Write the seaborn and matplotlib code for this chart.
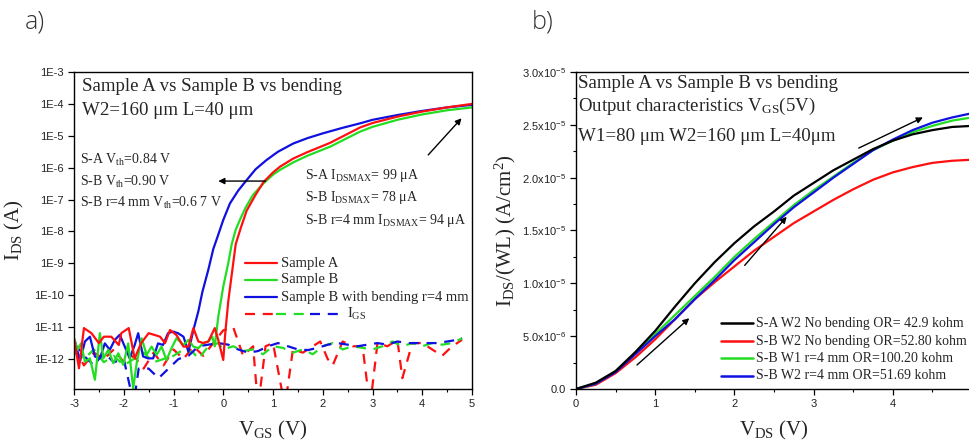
import numpy as np
import pandas as pd
import matplotlib
matplotlib.use("Agg")
import matplotlib.pyplot as plt
import seaborn as sns
from matplotlib.ticker import FixedLocator, FixedFormatter, MultipleLocator, NullFormatter

sns.set_style("ticks")
plt.rcParams["font.family"] = ["Liberation Serif", "DejaVu Serif"]
plt.rcParams["mathtext.fontset"] = "custom"
plt.rcParams["mathtext.rm"] = "Liberation Serif"
plt.rcParams["mathtext.it"] = "Liberation Serif:italic"
plt.rcParams["mathtext.sf"] = "Liberation Sans"
plt.rcParams["axes.edgecolor"] = "black"
plt.rcParams["axes.linewidth"] = 1.0

# ---------------- panel a) transfer curves (log10 of I_DS) ----------------
vgs_a = [-3.0, -2.9, -2.8, -2.65, -2.5, -2.4, -2.25, -2.1, -2.05, -1.9, -1.78, -1.65, -1.5,
         -1.37, -1.27, -1.17, -1.07, -0.94, -0.8, -0.7, -0.6, -0.5, -0.4, -0.3, -0.17, -0.1,
         0.0, 0.04, 0.1, 0.15, 0.2, 0.25, 0.35, 0.47, 0.65, 0.81, 1.0, 1.14, 1.4, 1.68, 2.15,
         2.75, 3.0, 3.5, 4.0, 4.5, 5.0]
log_a = [-11.35, -12.29, -11.03, -11.19, -11.5, -11.3, -11.3, -11.56, -11.19, -11.03, -11.98,
         -11.5, -11.19, -11.25, -11.3, -11.5, -11.09, -11.25, -11.61, -11.61, -11.03, -11.45,
         -11.5, -11.45, -11.03, -11.4, -12.03, -11.2, -10.2, -9.6, -9.0, -8.4, -7.9, -7.35,
         -6.85, -6.45, -6.15, -5.97, -5.72, -5.52, -5.22, -4.74, -4.6, -4.4, -4.24, -4.11, -4.0]

vgs_b = [-3.0, -2.93, -2.86, -2.78, -2.68, -2.58, -2.48, -2.41, -2.31, -2.21, -2.11, -2.01,
         -1.91, -1.81, -1.74, -1.64, -1.54, -1.44, -1.34, -1.24, -1.14, -1.04, -0.94, -0.8,
         -0.7, -0.6, -0.5, -0.4, -0.3, -0.22, -0.17, -0.1, 0.0, 0.1, 0.17, 0.25, 0.34, 0.45,
         0.6, 0.81, 1.0, 1.14, 1.4, 1.7, 2.15, 2.75, 3.0, 3.5, 4.0, 4.5, 5.0]
log_b = [-11.35, -11.71, -11.51, -12.08, -11.98, -12.65, -11.19, -11.98, -11.71, -12.13,
         -11.82, -12.18, -11.51, -12.92, -12.13, -11.35, -11.87, -11.61, -11.87, -11.61,
         -12.03, -11.66, -11.35, -11.56, -11.4, -11.61, -11.66, -11.5, -11.45, -11.3, -11.6,
         -10.67, -9.73, -9.0, -8.4, -7.95, -7.62, -7.25, -6.85, -6.49, -6.22, -6.07, -5.84,
         -5.62, -5.34, -4.87, -4.72, -4.5, -4.33, -4.2, -4.11]

vgs_c = [-3.0, -2.98, -2.88, -2.78, -2.68, -2.58, -2.48, -2.38, -2.28, -2.18, -2.08, -1.98,
         -1.88, -1.78, -1.71, -1.61, -1.51, -1.41, -1.31, -1.21, -1.11, -1.01, -0.91, -0.8,
         -0.7, -0.6, -0.5, -0.42, -0.3, -0.2, -0.1, 0.0, 0.135, 0.3, 0.47, 0.65, 0.87, 1.1,
         1.41, 1.7, 2.01, 2.4, 2.75, 3.0, 3.5, 4.0, 4.5, 5.0]
log_c = [-11.4, -11.45, -12.08, -11.45, -11.3, -11.92, -11.98, -11.51, -11.71, -11.4, -11.24,
         -11.61, -11.98, -11.56, -11.19, -11.92, -11.98, -11.98, -11.51, -11.56, -11.19,
         -11.14, -11.19, -11.3, -11.77, -11.09, -10.5, -9.9, -9.2, -8.55, -8.1, -7.64, -7.12,
         -6.72, -6.39, -6.05, -5.76, -5.5, -5.24, -5.07, -4.92, -4.75, -4.61, -4.5, -4.35,
         -4.22, -4.11, -4.03]

# gate leakage I_GS (log10)
vgs_ga = [-3.0, -2.8, -2.6, -2.4, -2.2, -2.0, -1.8, -1.6, -1.4, -1.2, -1.0, -0.8, -0.6, -0.4,
          -0.2, 0.0, 0.2, 0.4, 0.6, 0.7, 0.85, 1.0, 1.24, 1.4, 1.6, 1.8, 1.95, 2.1, 2.2, 2.4,
          2.6, 2.8, 2.95, 3.1, 3.3, 3.5, 3.6, 3.8, 4.0, 4.2, 4.4, 4.6, 4.8]
log_ga = [-11.6, -12.2, -11.8, -12.0, -11.7, -12.1, -11.9, -12.3, -11.8, -12.2, -11.7, -12.0,
          -11.6, -11.9, -11.5, -11.1, -11.0, -11.9, -11.6, -13.5, -11.6, -11.5, -13.5, -11.7,
          -11.8, -11.6, -11.45, -12.0, -12.2, -11.45, -11.6, -11.6, -13.5, -11.5, -11.6,
          -11.4, -12.6, -11.5, -11.5, -11.7, -11.9, -11.6, -11.4]
vgs_gb = [-3.0, -2.8, -2.6, -2.4, -2.2, -2.0, -1.8, -1.6, -1.4, -1.2, -1.0, -0.8, -0.6, -0.5,
          -0.3, -0.1, 0.0, 0.2, 0.4, 0.6, 0.8, 1.0, 1.2, 1.4, 1.6, 1.8, 2.0, 2.2, 2.4, 2.6,
          2.8, 3.0, 3.2, 3.4, 3.6, 3.8, 4.0, 4.2, 4.4, 4.6, 4.8]
log_gb = [-11.8, -12.0, -11.7, -12.1, -11.9, -12.2, -12.0, -11.8, -12.1, -12.0, -11.9, -11.7,
          -11.8, -12.0, -11.6, -11.5, -11.7, -11.6, -11.75, -11.7, -11.85, -11.6, -11.65,
          -11.8, -11.7, -11.85, -11.6, -11.5, -11.7, -11.6, -11.65, -11.7, -11.6, -11.45,
          -11.6, -11.5, -11.6, -11.5, -11.55, -11.5, -11.35]
vgs_gc = [-3.0, -2.8, -2.6, -2.4, -2.2, -2.0, -1.8, -1.7, -1.5, -1.3, -1.1, -0.9, -0.7, -0.5,
          -0.3, -0.1, 0.1, 0.3, 0.5, 0.7, 0.9, 1.1, 1.3, 1.5, 1.7, 1.9, 2.1, 2.3, 2.5, 2.7,
          2.9, 3.1, 3.3, 3.5, 3.7, 3.9, 4.1, 4.3, 4.5, 4.7, 4.8]
log_gc = [-11.5, -11.9, -12.2, -11.8, -12.1, -12.0, -13.4, -12.3, -12.3, -12.6, -12.3, -12.0,
          -11.9, -11.6, -11.55, -11.5, -11.55, -11.7, -11.8, -11.75, -11.6, -11.5, -11.6,
          -11.7, -11.72, -11.65, -11.55, -11.5, -11.55, -11.6, -11.55, -11.5, -11.55, -11.45,
          -11.5, -11.5, -11.5, -11.5, -11.45, -11.4, -11.35]

a_ytick_vals = [1e-12, 1e-11, 1e-10, 1e-9, 1e-8, 1e-7, 1e-6, 1e-5, 1e-4, 1e-3]
a_ytick_labels = ["1E-12", "1E-11", "1E-10", "1E-9", "1E-8", "1E-7", "1E-6", "1E-5", "1E-4", "1E-3"]
a_xticks = [-3, -2, -1, 0, 1, 2, 3, 4, 5]

# ---------------- panel b) output curves (A/cm^2, units of 1e-5) ----------------
vds = [0.0, 0.25, 0.5, 0.75, 1.0, 1.25, 1.5, 1.75, 2.0, 2.25, 2.5, 2.75, 3.0, 3.25, 3.5,
       3.75, 4.0, 4.25, 4.5, 4.75, 5.0]
j_sa_w2 = [0, 0.06, 0.17, 0.35, 0.55, 0.78, 1.0, 1.2, 1.38, 1.54, 1.68, 1.83, 1.95, 2.07,
           2.17, 2.27, 2.35, 2.41, 2.45, 2.48, 2.49]
j_sb_w2 = [0, 0.04, 0.15, 0.3, 0.47, 0.66, 0.85, 1.01, 1.16, 1.31, 1.44, 1.57, 1.68, 1.79,
           1.89, 1.98, 2.05, 2.1, 2.14, 2.16, 2.17]
j_sb_w1_r4 = [0, 0.05, 0.17, 0.34, 0.52, 0.7, 0.88, 1.06, 1.25, 1.42, 1.58, 1.74, 1.88, 2.01,
              2.14, 2.26, 2.35, 2.43, 2.49, 2.54, 2.57]
j_sb_w2_r4 = [0, 0.05, 0.16, 0.33, 0.5, 0.66, 0.85, 1.03, 1.22, 1.39, 1.56, 1.72, 1.86, 2.0,
              2.13, 2.26, 2.36, 2.45, 2.52, 2.57, 2.61]
b_labels = ["S-A W2 No bending OR= 42.9 kohm", "S-B W2 No bending OR=52.80 kohm",
            "S-B W1 r=4 mm OR=100.20 kohm", "S-B W2 r=4 mm OR=51.69 kohm"]
b_ytick_vals = [0, 0.5e-5, 1.0e-5, 1.5e-5, 2.0e-5, 2.5e-5, 3.0e-5]
b_ytick_labels = ["0.0", r"$\mathsf{5.0x10^{-6}}$", r"$\mathsf{1.0x10^{-5}}$",
                  r"$\mathsf{1.5x10^{-5}}$", r"$\mathsf{2.0x10^{-5}}$",
                  r"$\mathsf{2.5x10^{-5}}$", r"$\mathsf{3.0x10^{-5}}$"]
b_xticks = [0, 1, 2, 3, 4]

RED = "#ff1010"
GREEN = "#22dd22"
BLUE = "#1010e0"
BLACK = "#000000"

fig = plt.figure(figsize=(9.69, 4.45), dpi=100)
axA = fig.add_axes([74 / 969, 1 - 389 / 445, 398 / 969, 317 / 445])
axB = fig.add_axes([576 / 969, 1 - 389 / 445, 396 / 969, 317 / 445])

# ---- panel a
axA.set_yscale("log")
dash = (0, (4.5, 3.5))
for vx, lg, col in [(vgs_ga, log_ga, RED), (vgs_gb, log_gb, GREEN), (vgs_gc, log_gc, BLUE)]:
    sns.lineplot(x=vx, y=10.0 ** np.array(lg), ax=axA, color=col, lw=1.6,
                 linestyle=dash, estimator=None, sort=False)
for vx, lg, col in [(vgs_c, log_c, BLUE), (vgs_b, log_b, GREEN), (vgs_a, log_a, RED)]:
    sns.lineplot(x=vx, y=10.0 ** np.array(lg), ax=axA, color=col, lw=1.6,
                 estimator=None, sort=False)

axA.set_xlim(-3, 5)
axA.set_ylim(10 ** -12.94, 1e-3)
axA.yaxis.set_major_locator(FixedLocator(a_ytick_vals))
axA.yaxis.set_major_formatter(FixedFormatter(a_ytick_labels))
axA.yaxis.set_minor_locator(matplotlib.ticker.LogLocator(base=10, subs=np.arange(2, 10)))
axA.yaxis.set_minor_formatter(NullFormatter())
axA.set_xticks(a_xticks)
axA.set_xticklabels([str(v) for v in a_xticks])
axA.xaxis.set_minor_locator(MultipleLocator(0.5))

axA.set_xlabel(r"V$_{\rm GS}$ (V)", fontsize=15)
axA.set_ylabel(r"I$_{\rm DS}$ (A)", fontsize=15)
axA.xaxis.set_label_coords(0.5, -0.095)
axA.yaxis.set_label_coords(-0.12, 0.5)

axA.text(0.019, 0.953, "Sample A vs Sample B vs bending", transform=axA.transAxes,
         fontsize=13.6, va="center", ha="left")
axA.text(0.019, 0.877, "W2=160 \u03bcm L=40 \u03bcm", transform=axA.transAxes,
         fontsize=13.6, va="center", ha="left")
for yy, s in zip([0.722, 0.653, 0.587],
                 [r"S-A V$_{\rm th}$=0.84 V", r"S-B V$_{\rm th}$=0.90 V",
                  r"S-B r=4 mm V$_{\rm th}$=0.6 7 V"]):
    axA.text(0.015, yy, s, transform=axA.transAxes, fontsize=10, va="center", ha="left")
for yy, s in zip([0.675, 0.603, 0.530],
                 ["S-A I$_{\\rm DSMAX}$= 99 \u03bcA", "S-B I$_{\\rm DSMAX}$= 78 \u03bcA",
                  "S-B r=4 mm I$_{\\rm DSMAX}$= 94 \u03bcA"]):
    axA.text(0.580, yy, s, transform=axA.transAxes, fontsize=10, va="center", ha="left")

arrow_kw = dict(arrowstyle="-|>", color="black", lw=1.0, mutation_scale=9,
                shrinkA=0, shrinkB=0)
axA.annotate("", xy=(-0.1, 10 ** -6.42), xytext=(0.85, 10 ** -6.42), arrowprops=arrow_kw)
axA.annotate("", xy=(4.79, 10 ** -4.45), xytext=(4.12, 10 ** -5.6), arrowprops=arrow_kw)

# manual legend (panel a)
leg_rows = [0.397, 0.344, 0.290, 0.237]
for yy, col, s in zip(leg_rows[:3], [RED, GREEN, BLUE],
                      ["Sample A", "Sample B", "Sample B with bending r=4 mm"]):
    axA.plot([0.430, 0.510], [yy, yy], color=col, lw=1.6, transform=axA.transAxes)
    axA.text(0.520, yy, s, transform=axA.transAxes, fontsize=10.5, va="center", ha="left")
for x0, x1, col in [(0.430, 0.508, RED), (0.508, 0.592, GREEN), (0.592, 0.676, BLUE)]:
    axA.plot([x0, x1], [leg_rows[3]] * 2, color=col, lw=1.6, linestyle=dash,
             transform=axA.transAxes)
axA.text(0.686, leg_rows[3], r"I$_{\rm GS}$", transform=axA.transAxes, fontsize=10.5,
         va="center", ha="left")

# ---- panel b
for yv, col in [(j_sb_w2, RED), (j_sb_w1_r4, GREEN), (j_sb_w2_r4, BLUE), (j_sa_w2, BLACK)]:
    sns.lineplot(x=vds, y=np.array(yv) * 1e-5, ax=axB, color=col, lw=1.6,
                 estimator=None, sort=False)
axB.set_xlim(0, 5)
axB.set_ylim(0, 3.0e-5)
axB.set_xticks(b_xticks)
axB.set_xticklabels([str(v) for v in b_xticks])
axB.xaxis.set_minor_locator(MultipleLocator(0.5))
axB.yaxis.set_major_locator(FixedLocator(b_ytick_vals))
axB.yaxis.set_major_formatter(FixedFormatter(b_ytick_labels))
axB.yaxis.set_minor_locator(MultipleLocator(0.25e-5))
axB.set_xlabel(r"V$_{\rm DS}$ (V)", fontsize=15)
axB.set_ylabel(r"I$_{\rm DS}$/(WL) (A/cm$^{2}$)", fontsize=15)
axB.xaxis.set_label_coords(0.5, -0.095)
axB.yaxis.set_label_coords(-0.147, 0.5)

for yy, s in zip([0.965, 0.890, 0.795],
                 ["Sample A vs Sample B vs bending", r"Output characteristics V$_{\rm GS}$(5V)",
                  "W1=80 \u03bcm W2=160 \u03bcm L=40\u03bcm"]):
    axB.text(0.006, yy, s, transform=axB.transAxes, fontsize=13.6, va="center", ha="left")

axB.annotate("", xy=(1.43, 0.67e-5), xytext=(0.77, 0.227e-5), arrowprops=arrow_kw)
axB.annotate("", xy=(2.66, 1.63e-5), xytext=(2.13, 1.17e-5), arrowprops=arrow_kw)
axB.annotate("", xy=(4.38, 2.57e-5), xytext=(3.57, 2.28e-5), arrowprops=arrow_kw)

b_rows = [0.207, 0.151, 0.097, 0.042]
for yy, col, s in zip(b_rows, [BLACK, RED, GREEN, BLUE], b_labels):
    axB.plot([0.365, 0.447], [yy, yy], color=col, lw=1.8, transform=axB.transAxes)
    axB.text(0.454, yy, s, transform=axB.transAxes, fontsize=10, va="center", ha="left")

for ax in (axA, axB):
    for sp in ax.spines.values():
        sp.set_visible(True)
        sp.set_color("black")
        sp.set_linewidth(1.0)
    ax.tick_params(which="major", direction="out", length=4, width=0.9, colors="black",
                   labelsize=8, labelcolor="#222222")
    ax.tick_params(which="minor", direction="out", length=2.2, width=0.8, colors="black")
    for lab in ax.get_xticklabels() + ax.get_yticklabels():
        lab.set_fontfamily(["Liberation Sans", "DejaVu Sans"])

fig.text(25 / 969, 1 - 22 / 445, "a)", fontsize=18, family=["Open Sans", "DejaVu Sans"],
         fontweight="light", color="#333333", va="center", ha="left")
fig.text(532 / 969, 1 - 22 / 445, "b)", fontsize=18, family=["Open Sans", "DejaVu Sans"],
         fontweight="light", color="#333333", va="center", ha="left")

fig.savefig("out.png", dpi=100)
